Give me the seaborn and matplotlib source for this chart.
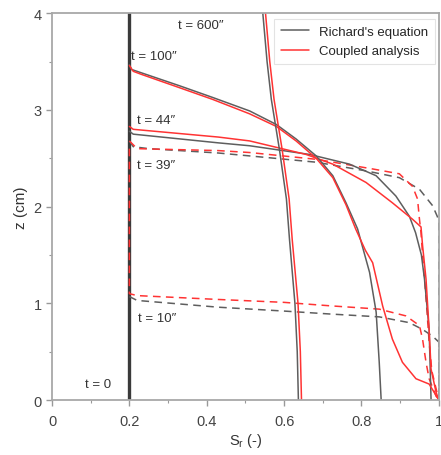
import numpy as np
import pandas as pd
import matplotlib
matplotlib.use("Agg")
import matplotlib.pyplot as plt
from matplotlib.lines import Line2D
from matplotlib.ticker import MultipleLocator
import seaborn as sns

sns.set_style("white")
plt.rcParams["font.family"] = ["Liberation Sans", "DejaVu Sans"]

# ---------------------------------------------------------------------------
# Data: saturation S_r vs height z (cm)
# ---------------------------------------------------------------------------
t0_s = [0.2, 0.2]
t0_z = [0.0, 4.0]

# t = 10" (dashed)
rich10_s = [0.2, 0.22, 0.43, 0.6, 0.717, 0.846, 0.924, 0.958, 0.984, 1.0, 1.0]
rich10_z = [1.07, 1.03, 0.96, 0.92, 0.89, 0.86, 0.80, 0.73, 0.66, 0.6, 0.0]
coup10_s = [0.2, 0.2, 0.22, 0.43, 0.6, 0.717, 0.846, 0.915, 0.95, 0.958, 0.967, 0.975, 0.993, 1.0]
coup10_z = [2.6, 1.1, 1.08, 1.04, 1.01, 0.975, 0.94, 0.87, 0.77, 0.63, 0.39, 0.22, 0.04, 0.0]

# t = 39" (dashed)
rich39_s = [0.2, 0.21, 0.25, 0.43, 0.511, 0.683, 0.812, 0.898, 0.95, 0.984, 0.996, 1.0, 1.0]
rich39_z = [2.68, 2.62, 2.6, 2.555, 2.525, 2.46, 2.37, 2.30, 2.18, 2.01, 1.90, 1.85, 0.0]
coup39_s = [0.2, 0.22, 0.43, 0.511, 0.683, 0.829, 0.898, 0.932, 0.945, 0.95, 0.954, 0.96, 0.968,
            0.975, 0.982, 1.0]
coup39_z = [2.68, 2.6, 2.58, 2.56, 2.49, 2.39, 2.34, 2.21, 2.08, 1.87, 1.73, 1.4, 1.0,
            0.6, 0.3, 0.0]

# t = 44" (solid)
rich44_s = [0.2, 0.21, 0.43, 0.511, 0.666, 0.769, 0.838, 0.889, 0.924, 0.94, 0.955, 0.963, 0.975, 0.98]
rich44_z = [2.78, 2.75, 2.66, 2.63, 2.54, 2.44, 2.32, 2.11, 1.90, 1.73, 1.5, 1.25, 0.73, 0.0]
coup44_s = [0.2, 0.21, 0.43, 0.511, 0.657, 0.726, 0.812, 0.88, 0.932, 0.954, 0.958, 0.967, 0.975,
            0.98, 0.993, 1.0]
coup44_z = [2.83, 2.8, 2.72, 2.68, 2.54, 2.44, 2.25, 2.04, 1.87, 1.79, 1.6, 1.25, 0.73,
            0.32, 0.08, 0.0]

# t = 100" (solid)
rich100_s = [0.2, 0.205, 0.227, 0.33, 0.415, 0.511, 0.58, 0.631, 0.683, 0.726, 0.76, 0.79, 0.821,
             0.838, 0.846, 0.851]
rich100_z = [3.47, 3.42, 3.39, 3.25, 3.13, 2.99, 2.85, 2.70, 2.525, 2.32, 2.04, 1.77, 1.32,
             0.91, 0.39, 0.0]
coup100_s = [0.2, 0.21, 0.23, 0.33, 0.415, 0.511, 0.58, 0.631, 0.683, 0.726, 0.76, 0.785, 0.81,
             0.829, 0.855, 0.88, 0.906, 0.941, 0.975, 0.988, 1.0]
coup100_z = [3.46, 3.40, 3.37, 3.23, 3.11, 2.96, 2.83, 2.68, 2.50, 2.30, 2.02, 1.77, 1.55,
             1.42, 0.97, 0.63, 0.39, 0.22, 0.165, 0.08, 0.0]

# t = 600" (solid)
rich600_s = [0.545, 0.556, 0.567, 0.588, 0.606, 0.614, 0.628, 0.634, 0.637]
rich600_z = [4.0, 3.5, 3.11, 2.59, 2.08, 1.66, 1.0, 0.5, 0.0]
coup600_s = [0.552, 0.563, 0.574, 0.595, 0.613, 0.621, 0.636, 0.642, 0.645]
coup600_z = [4.0, 3.5, 3.11, 2.59, 2.08, 1.66, 1.0, 0.5, 0.0]

labels = ['t = 600\u2033', 't = 100\u2033', 't = 44\u2033', 't = 39\u2033', 't = 10\u2033', 't = 0']
label_s = [0.325, 0.205, 0.22, 0.22, 0.222, 0.085]
label_z = [3.88, 3.56, 2.90, 2.43, 0.85, 0.17]

grey = "#5e5e5e"
red = "#ff3333"

fig = plt.figure(figsize=(4.41, 4.56), dpi=100)
ax = fig.add_axes([0.118, 0.1206, 0.877, 0.848])

sns.lineplot(x=t0_s, y=t0_z, ax=ax, color="#3a3a3a", lw=2.4, sort=False, estimator=None)

curves = [
    (rich10_s, rich10_z, grey, "--"), (coup10_s, coup10_z, red, "--"),
    (rich39_s, rich39_z, grey, "--"), (coup39_s, coup39_z, red, "--"),
    (rich44_s, rich44_z, grey, "-"), (coup44_s, coup44_z, red, "-"),
    (rich100_s, rich100_z, grey, "-"), (coup100_s, coup100_z, red, "-"),
    (rich600_s, rich600_z, grey, "-"), (coup600_s, coup600_z, red, "-"),
]
for s, z, c, ls in curves:
    line = sns.lineplot(x=s, y=z, ax=ax, color=c, lw=1.1, sort=False, estimator=None).lines[-1]
    if ls == "--":
        line.set_dashes((5, 3.5))

for txt, s, z in zip(labels, label_s, label_z):
    ax.text(s, z, txt, fontsize=9.5, color="#333333", ha="left", va="center")

ax.set_xlim(0, 1)
ax.set_ylim(0, 4)
ax.xaxis.set_minor_locator(MultipleLocator(0.1))
ax.yaxis.set_minor_locator(MultipleLocator(0.5))
ax.set_xticks([0, 0.2, 0.4, 0.6, 0.8, 1.0])
ax.set_xticklabels(["0", "0.2", "0.4", "0.6", "0.8", "1"])
ax.set_yticks([0, 1, 2, 3, 4])
ax.set_yticklabels(["0", "1", "2", "3", "4"])
ax.tick_params(which="both", bottom=True, left=True, direction="out", color="#999999",
               labelsize=10.5, labelcolor="#444444")
ax.tick_params(which="major", length=4, width=1)
ax.tick_params(which="minor", length=2.5, width=0.8)
ax.tick_params(axis="x", pad=6)
for sp in ax.spines.values():
    sp.set_color("#a8a8a8")
    sp.set_linewidth(1.3)

ax.set_xlabel(r"S$_\mathregular{r}$ (-)", fontsize=10.5, color="#333333", labelpad=2)
ax.set_ylabel("z (cm)", fontsize=11, color="#333333", labelpad=4)

handles = [Line2D([], [], color=grey, lw=1.1), Line2D([], [], color=red, lw=1.1)]
leg = ax.legend(handles, ["Richard's equation", "Coupled analysis"], loc="upper right",
                bbox_to_anchor=(0.99, 0.985), fontsize=9.5, frameon=True, fancybox=False,
                borderaxespad=0.0, handlelength=2.1, labelspacing=0.55, borderpad=0.5)
leg.get_frame().set_edgecolor("#dddddd")
leg.get_frame().set_linewidth(0.8)

fig.savefig("out.png", dpi=100)
